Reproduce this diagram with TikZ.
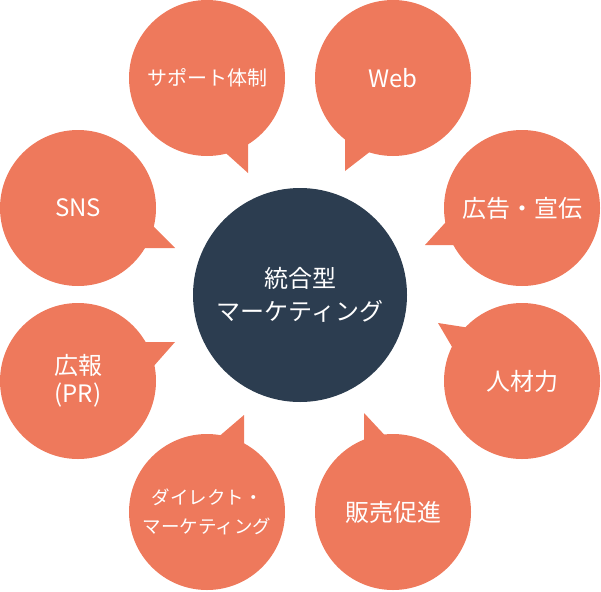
\documentclass[tikz,border=0pt]{standalone}
\usepackage{fontspec}
\setmainfont{Noto Sans CJK JP}
\definecolor{salmon}{RGB}{238,121,92}
\definecolor{navy}{RGB}{44,61,80}
\tikzset{
  bubble/.style={circle,fill=salmon,minimum size=156pt,inner sep=0pt,
    text=white,align=center,font=\fontsize{24}{28}\selectfont},
  hub/.style={circle,fill=navy,minimum size=214pt,inner sep=0pt,
    text=white,align=center,font=\fontsize{24}{33}\selectfont},
  tail/.style={fill=salmon},
}
\begin{document}
\begin{tikzpicture}[x=1pt,y=-1pt]
  \useasboundingbox (0,0) rectangle (601,591);
  % speech tails, drawn under the circles
  \fill[tail] (248,130) -- (248,173) -- (218,146) -- cycle;
  \fill[tail] (345,130) -- (345,171) -- (380,144) -- cycle;
  \fill[tail] (470,245) -- (425,245) -- (455,212) -- cycle;
  \fill[tail] (483,330) -- (438,323) -- (458,357) -- cycle;
  \fill[tail] (364,455) -- (364,413) -- (392,443) -- cycle;
  \fill[tail] (244,455) -- (244,415) -- (209,445) -- cycle;
  \fill[tail] (130,342) -- (175,342) -- (145,376) -- cycle;
  \fill[tail] (130,248) -- (175,248) -- (145,218) -- cycle;

  \node[hub] (hub) at (300,295) {統合型\\マーケティング};

  \node[bubble,font=\fontsize{20}{24}\selectfont] (support) at (207,78) {サポート体制};
  \node[bubble] (web) at (393,78) {Web};
  \node[bubble] (ad) at (522,208) {広告・宣伝};
  \node[bubble] (hr) at (522,381) {人材力};
  \node[bubble] (promo) at (393,512) {販売促進};
  \node[bubble,font=\fontsize{18.5}{29}\selectfont] (direct) at (207,512) {ダイレクト・\\マーケティング};
  \node[bubble] (pr) at (78,381) {広報\\(PR)};
  \node[bubble] (sns) at (78,208) {SNS};
\end{tikzpicture}
\end{document}
